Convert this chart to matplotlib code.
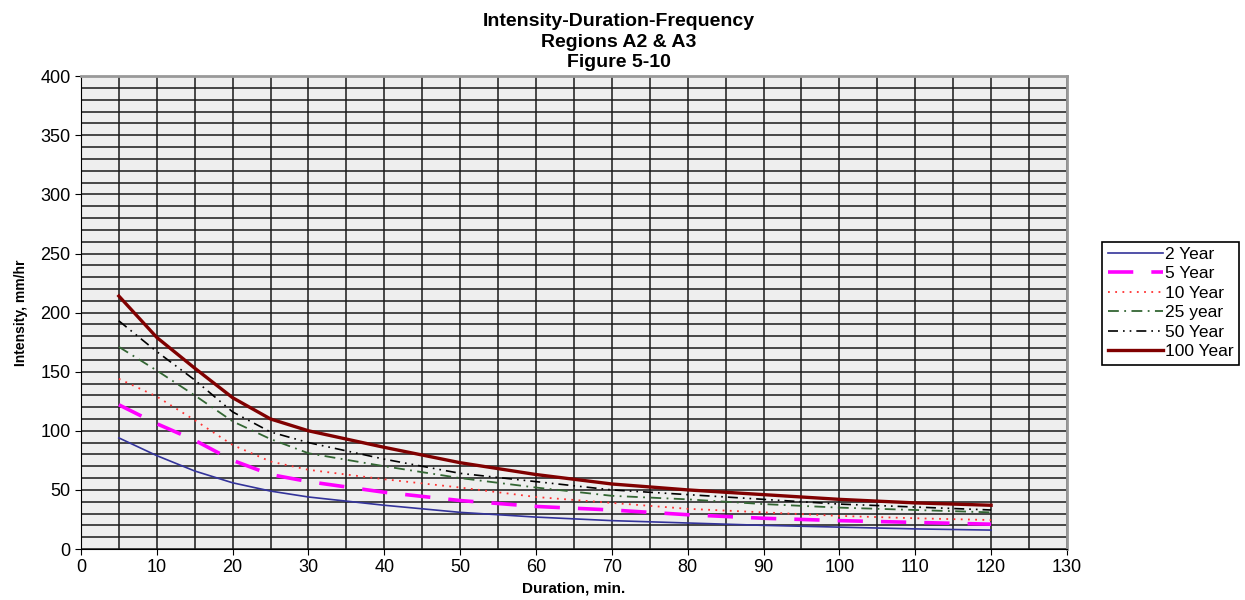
import matplotlib.pyplot as plt
from matplotlib.ticker import MultipleLocator

plt.rcParams['font.family'] = ['Liberation Sans', 'DejaVu Sans']

# Продолжительность, мин
duration = [5, 10, 15, 20, 25, 30, 40, 50, 60, 70, 80, 90, 100, 110, 120]

# Интенсивность, мм/ч
yr2 = [94, 79, 66, 56, 49, 44, 37, 31, 27, 24, 22, 20, 18.5, 17, 16]
yr5 = [122, 106, 92, 75, 63, 57, 48, 41, 36, 33, 29, 26, 24, 22.5, 21]
yr10 = [144, 129, 109, 88, 74, 67, 59, 52, 44, 39, 34, 31, 28, 26, 24.5]
yr25 = [171, 151, 130, 108, 93, 81, 70, 60, 52, 45, 42, 38, 35, 33, 31]
yr50 = [193, 167, 143, 116, 99, 90, 76, 64, 57, 50, 46, 42, 38, 35.5, 33]
yr100 = [214, 179, 153, 128, 110, 100, 86, 73, 63, 55, 50, 46, 42, 39, 37]

labels = ['2 Year', '5 Year', '10 Year', '25 year', '50 Year', '100 Year']

fig = plt.figure(figsize=(12.45, 6), dpi=100)
ax = fig.add_axes([0.065, 0.085, 0.792, 0.788])
ax.set_facecolor('#eeeeee')

ax.plot(duration, yr2, color='#33339a', lw=1.2, label=labels[0])
ax.plot(duration, yr5, color='#ff00ff', lw=2.6, ls=(0, (7, 5)), label=labels[1])
ax.plot(duration, yr10, color='#ff3333', lw=1.3, ls=(0, (1, 3)), label=labels[2])
ax.plot(duration, yr25, color='#336633', lw=1.3, ls=(0, (6, 3, 1, 3)), label=labels[3])
ax.plot(duration, yr50, color='black', lw=1.2, ls=(0, (6, 3, 1, 3, 1, 3)), label=labels[4])
ax.plot(duration, yr100, color='#800000', lw=2.4, label=labels[5])

ax.set_xlim(0, 130)
ax.set_ylim(0, 400)
ax.xaxis.set_major_locator(MultipleLocator(10))
ax.xaxis.set_minor_locator(MultipleLocator(5))
ax.yaxis.set_major_locator(MultipleLocator(50))
ax.yaxis.set_minor_locator(MultipleLocator(10))
ax.grid(True, which='both', color='#1a1a1a', lw=1.3, alpha=0.85)
ax.set_axisbelow(True)
ax.tick_params(which='minor', length=0)
ax.tick_params(which='major', length=4, labelsize=13, direction='out')
for s in ['top', 'right']:
    ax.spines[s].set_color('#999999')
    ax.spines[s].set_linewidth(2)

ax.set_xlabel('Duration, min.', fontsize=11, fontweight='bold', labelpad=4)
ax.set_ylabel('Intensity, mm/hr', fontsize=10, fontweight='bold', labelpad=9)

fig.text(0.497, 0.978, 'Intensity-Duration-Frequency\nRegions A2 & A3\nFigure 5-10',
         ha='center', va='top', fontsize=14, fontweight='bold', linespacing=1.28)

leg = ax.legend(loc='center left', bbox_to_anchor=(1.036, 0.52), fontsize=12.5,
                handlelength=3.2, handletextpad=0.1, labelspacing=0.25,
                fancybox=False, edgecolor='black', framealpha=1, borderpad=0.3,
                borderaxespad=0)
leg.get_frame().set_linewidth(1.2)

plt.savefig('out.png', dpi=100)
